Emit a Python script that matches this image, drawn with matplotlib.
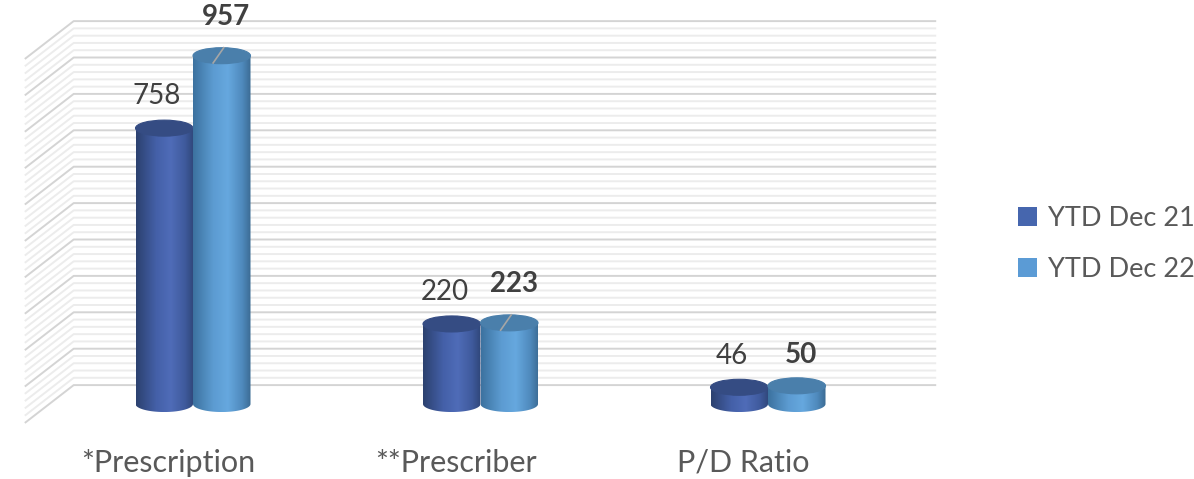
import numpy as np
import matplotlib
matplotlib.use('Agg')
import matplotlib.pyplot as plt
from matplotlib.patches import Ellipse, PathPatch, Patch
from matplotlib.path import Path
from matplotlib.colors import to_rgb

categories = ['*Prescription', '**Prescriber', 'P/D Ratio']
series = ['YTD Dec 21', 'YTD Dec 22']
ytd21 = [758, 220, 46]
ytd22 = [957, 223, 50]

# back wall grid: 0..1000, major every 100, minor every 20
grid_max, grid_major, grid_minor = 1000, 100, 20

plt.rcParams['font.family'] = ['Lato', 'DejaVu Sans']

dark_stops = [(0, '#2c416f'), (0.35, '#4460a8'), (0.6, '#4f6cb8'), (0.85, '#3f5a9c'), (1, '#2f4679')]
light_stops = [(0, '#3c729f'), (0.35, '#5c9bd1'), (0.6, '#66a8df'), (0.85, '#4f8abd'), (1, '#3b6b93')]
top_cols = ['#354c83', '#4a7fab']
legend_cols = ['#4666ae', '#5b9bd5']

fig = plt.figure(figsize=(11.94, 4.79), dpi=100)
ax = fig.add_axes([0, 0, 1, 1])
ax.axis('off')

depth_x, depth_y = 0.085, 52   # half depth of the 3d box, in data units
ell_h = 44                     # height of the cylinder caps


def gradient(stops, n=200):
    pos = [s[0] for s in stops]
    cols = np.array([to_rgb(s[1]) for s in stops])
    t = np.linspace(0, 1, n)
    rgb = np.stack([np.interp(t, pos, cols[:, k]) for k in range(3)], axis=-1)
    return rgb[np.newaxis, :, :]


def cylinder(x0, w, v, stops, top_col, z):
    xc = x0 + w / 2
    t = np.linspace(0, np.pi, 60)
    arc = list(zip(xc - w / 2 * np.cos(t), -ell_h / 2 * np.sin(t)))
    verts = [(x0, v)] + arc + [(x0 + w, v), (x0, v)]
    patch = PathPatch(Path(verts), facecolor='none', edgecolor='none', zorder=z)
    ax.add_patch(patch)
    im = ax.imshow(gradient(stops), extent=(x0, x0 + w, -ell_h / 2, v),
                   aspect='auto', interpolation='bilinear', zorder=z)
    im.set_clip_path(patch)
    ax.add_patch(Ellipse((xc, v), w, ell_h, facecolor=top_col,
                         edgecolor=top_col, lw=0.8, zorder=z + 0.1))


# walls
for v in range(0, grid_max + 1, grid_minor):
    major = v % grid_major == 0
    ax.plot([-0.5 - depth_x, -0.5 + depth_x, 2.5 + depth_x],
            [v - depth_y, v + depth_y, v + depth_y],
            color='#d4d4d4' if major else '#ececec', lw=1.4,
            solid_capstyle='butt', zorder=0 if not major else 0.5)

w = 0.2
x = np.arange(len(categories))
for i in range(len(categories)):
    cylinder(x[i] - w, w, ytd21[i], dark_stops, top_cols[0], 2 + i)
    cylinder(x[i], w, ytd22[i], light_stops, top_cols[1], 2.5 + i)
    ax.text(x[i] - 0.125, ytd21[i] + 87, str(ytd21[i]), ha='center', va='center',
            fontsize=20, color='#404040')
    ax.text(x[i] + 0.115, ytd22[i] + (106 if i < 2 else 85), str(ytd22[i]),
            ha='center', va='center', fontsize=20, color='#404040', fontweight='bold')
    if i < 2:
        ax.plot([x[i] + 0.07, x[i] + 0.107], [ytd22[i] - 20, ytd22[i] + 22],
                color='#a6a6a6', lw=1.2, zorder=10)
    ax.text(x[i] - depth_x, -162, categories[i], ha='center', va='center',
            fontsize=22, color='#595959')

ax.set_xlim(-0.6713, 3.4817)
ax.set_ylim(-206, 1110)

handles = [Patch(facecolor=c, edgecolor='none') for c in legend_cols]
fig.legend(handles, series, loc='center left', bbox_to_anchor=(994 / 1194, 1 - 244 / 479),
           frameon=False, fontsize=19.5, labelcolor='#595959', handlelength=0.7,
           handleheight=0.7, handletextpad=0.4, labelspacing=0.95)

fig.savefig('out.png', dpi=100)
